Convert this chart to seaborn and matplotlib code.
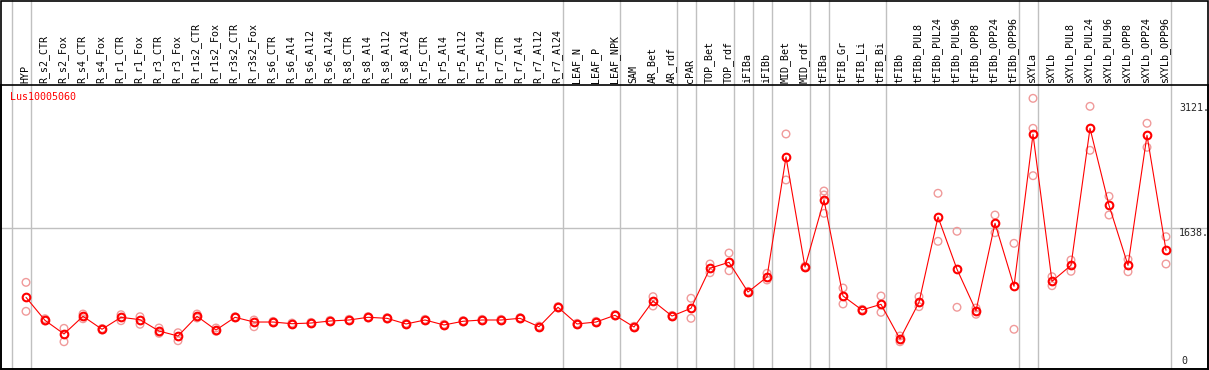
import numpy as np
import pandas as pd
import matplotlib
matplotlib.use("Agg")
import matplotlib.pyplot as plt
import matplotlib.transforms as mtransforms
from matplotlib.patches import Rectangle
import seaborn as sns

categories = ["HYP", "R_s2_CTR", "R_s2_Fox", "R_s4_CTR", "R_s4_Fox", "R_r1_CTR", "R_r1_Fox",
              "R_r3_CTR", "R_r3_Fox", "R_r1s2_CTR", "R_r1s2_Fox", "R_r3s2_CTR", "R_r3s2_Fox",
              "R_s6_CTR", "R_s6_Al4", "R_s6_Al12", "R_s6_Al24", "R_s8_CTR", "R_s8_Al4", "R_s8_Al12",
              "R_s8_Al24", "R_r5_CTR", "R_r5_Al4", "R_r5_Al12", "R_r5_Al24", "R_r7_CTR", "R_r7_Al4",
              "R_r7_Al12", "R_r7_Al24", "LEAF_N", "LEAF_P", "LEAF_NPK", "SAM", "AR_Bet", "AR_rdf",
              "cPAR", "TOP_Bet", "TOP_rdf", "iFIBa", "iFIBb", "MID_Bet", "MID_rdf", "tFIBa",
              "tFIB_Gr", "tFIB_Li", "tFIB_Bi", "tFIBb", "tFIBb_PUL8", "tFIBb_PUL24", "tFIBb_PUL96",
              "tFIBb_OPP8", "tFIBb_OPP24", "tFIBb_OPP96", "sXYLa", "sXYLb", "sXYLb_PUL8",
              "sXYLb_PUL24", "sXYLb_PUL96", "sXYLb_OPP8", "sXYLb_OPP24", "sXYLb_OPP96"]

mean_values = [815, 542, 380, 590, 436, 578, 550, 415, 356, 590, 427, 578, 522, 522, 502, 510,
               534, 546, 578, 566, 499, 546, 487, 531, 546, 546, 566, 466, 697, 499, 522, 602,
               463, 772, 593, 685, 1160, 1231, 878, 1056, 2481, 1175, 1970, 831, 665, 732, 320,
               756, 1769, 1148, 656, 1694, 946, 2750, 1005, 1195, 2821, 1907, 1195, 2738, 1373]

rep1_values = [993, 561, 447, 617, 445, 609, 585, 451, 395, 617, 451, 585, 546, 530, 510, 518,
               542, 554, 586, 574, 507, 554, 495, 539, 554, 554, 574, 474, 705, 507, 530, 610,
               471, 823, 601, 804, 1211, 1341, 886, 1100, 2754, 1183, 2077, 926, 673, 831, 356,
               823, 2050, 1599, 688, 1792, 1456, 3177, 1060, 1258, 3082, 2014, 1266, 2881, 1535]

rep2_values = [649, 534, 288, 561, 427, 538, 495, 388, 300, 570, 412, 571, 466, 514, 494, 502,
               526, 538, 570, 558, 491, 538, 479, 523, 538, 538, 558, 458, 689, 491, 514, 594,
               455, 712, 585, 566, 1107, 1131, 870, 1021, 2208, 1167, 2030, 736, 657, 637, 288,
               704, 1480, 697, 614, 1582, 436, 2821, 953, 1124, 2560, 1792, 1119, 2596, 1211]

rep3_categories = ["tFIBa", "sXYLa"]
rep3_values = [1812, 2259]

# categories after which a group separator is drawn ("" = left edge)
group_ends = ["", "HYP", "R_r7_Al24", "LEAF_NPK", "AR_rdf", "cPAR", "TOP_rdf", "iFIBa", "iFIBb",
              "MID_rdf", "tFIBa", "tFIB_Bi", "tFIBb_OPP96", "sXYLa", "sXYLb_OPP96"]

y_labels = [3121, 1638, 0]
title = "Lus10005060"

# ---------- data frames ----------
idx = {c: i for i, c in enumerate(categories)}
df_mean = pd.DataFrame({"pos": np.arange(len(categories)), "value": mean_values})
reps = pd.concat([
    pd.DataFrame({"pos": np.arange(len(categories)), "value": rep1_values}),
    pd.DataFrame({"pos": np.arange(len(categories)), "value": rep2_values}),
    pd.DataFrame({"pos": [idx[c] for c in rep3_categories], "value": rep3_values}),
], ignore_index=True)

# ---------- figure ----------
sns.set_style("white")
plt.rcParams["font.family"] = ["DejaVu Sans Mono", "DejaVu Sans"]

W, H = 1209, 370
fig = plt.figure(figsize=(W / 100, H / 100), dpi=100)
left_px, right_px, top_px, bot_px = 1.0, 1208.0, 85.0, 369.0
ax = fig.add_axes([left_px / W, 1 - bot_px / H, (right_px - left_px) / W, (bot_px - top_px) / H])

# pixel mapping: x = 26 + 19*i ; y = 366 - 0.08425*v
step, x0 = 19.0, 26.0
ax.set_xlim((left_px - x0) / step, (right_px - x0) / step)
scale, y0 = 0.08425, 366.0
ax.set_ylim((y0 - bot_px) / scale, (y0 - top_px) / scale)
ax.set_xticks([])
ax.set_yticks([])
for s in ax.spines.values():
    s.set_color("black")
    s.set_linewidth(1.2)

grid_col = "#c0c0c0"
ax_h_frac = (bot_px - top_px)
ymax_ext = bot_px / ax_h_frac  # extend separators up to the top of the figure
for g in group_ends:
    gx = (idx[g] if g else -1) + 4.7 / step
    ax.axvline(gx, ymin=0, ymax=ymax_ext, color=grid_col, lw=1.0, clip_on=False, zorder=0)
ax.axhline(y_labels[1], color=grid_col, lw=1.0, zorder=0)

# replicates
sns.scatterplot(data=reps, x="pos", y="value", ax=ax, marker="o", s=30,
                facecolor="none", edgecolor="#f09a9a", linewidth=1.0, zorder=2, legend=False)
# mean line + markers
sns.lineplot(data=df_mean, x="pos", y="value", ax=ax, color="red", lw=0.8, estimator=None,
             marker="o", markersize=5.5, markerfacecolor="none", markeredgecolor="red",
             markeredgewidth=1.5, zorder=3, legend=False)
ax.set_xlabel("")
ax.set_ylabel("")

# header labels
trans = mtransforms.blended_transform_factory(ax.transData, ax.transAxes)
for i, c in enumerate(categories):
    ax.text(i - 0.05, 1 + 2.0 / ax_h_frac, c, rotation=90, ha="center", va="bottom",
            fontsize=7.2, color="black", transform=trans, clip_on=False)

# value labels at right
lab_x = (1179 - x0) / step
ax.text(lab_x, y_labels[0], f"{y_labels[0]}.", ha="left", va="top", fontsize=7.2)
ax.text(lab_x, y_labels[1], f"{y_labels[1]}.", ha="left", va="top", fontsize=7.2)
ax.text(lab_x + 0.1, y_labels[2], f"{y_labels[2]}", ha="left", va="bottom", fontsize=7.2)

# title
fig.text(10 / W, 1 - 97 / H, title, color="red", ha="left", va="center", fontsize=7.2)

# outer border of the whole panel
fig.add_artist(Rectangle((left_px / W, 1 - bot_px / H), (right_px - left_px) / W,
                         (bot_px - 0.5) / H, transform=fig.transFigure, fill=False,
                         edgecolor="black", lw=1.2))

fig.savefig("out.png", dpi=100, facecolor="white")
